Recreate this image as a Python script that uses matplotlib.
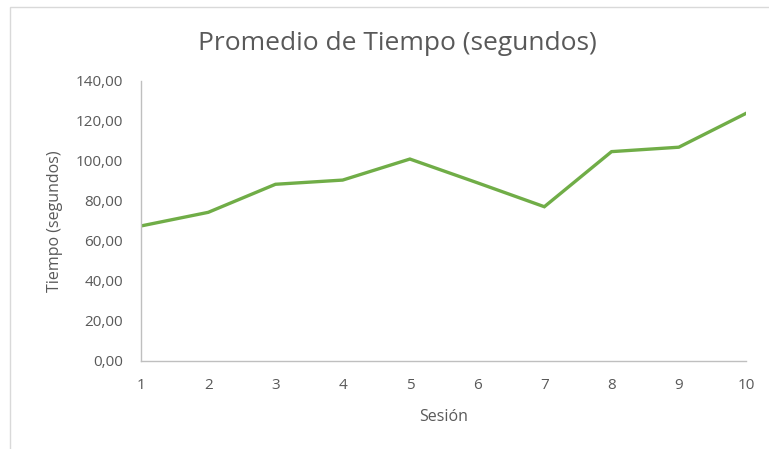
import matplotlib.pyplot as plt
from matplotlib.ticker import FuncFormatter, MultipleLocator
from matplotlib.patches import Rectangle

sesiones = [1, 2, 3, 4, 5, 6, 7, 8, 9, 10]
tiempo = [67.4, 74.2, 88.2, 90.3, 100.8, 89.0, 77.0, 104.5, 106.7, 123.6]

txt = "#595959"
plt.rcParams['font.family'] = ['Open Sans', 'DejaVu Sans']

fig = plt.figure(figsize=(7.69, 4.49), dpi=100)
# chart frame (cropped on the right/bottom in the original)
fig.patches.append(Rectangle((10 / 769, -0.1), 1.2, (449 - 7) / 449 + 0.1,
                             transform=fig.transFigure, fill=False,
                             edgecolor="#D9D9D9", linewidth=1))

ax = fig.add_axes([141 / 769, 88 / 449, 605 / 769, 280.5 / 449])
ax.plot(sesiones, tiempo, color="#70AD47", linewidth=2.4, solid_joinstyle="miter")

ax.set_xlim(1, 10)
ax.set_ylim(0, 140)
ax.set_xticks(sesiones)
ax.yaxis.set_major_locator(MultipleLocator(20))
ax.yaxis.set_major_formatter(FuncFormatter(lambda v, p: f"{v:.2f}".replace(".", ",")))

for s in ["top", "right"]:
    ax.spines[s].set_visible(False)
for s in ["left", "bottom"]:
    ax.spines[s].set_color("#BFBFBF")
    ax.spines[s].set_linewidth(1)
ax.tick_params(length=0, colors=txt, labelsize=11)
ax.tick_params(axis="y", pad=13)
ax.tick_params(axis="x", pad=12)

ax.set_xlabel("Sesión", color=txt, fontsize=11.5, labelpad=12)
ax.set_ylabel("Tiempo (segundos)", color=txt, fontsize=11.5, labelpad=9)
fig.text(397 / 769, 1 - 43 / 449, "Promedio de Tiempo (segundos)", color=txt,
         fontsize=19, ha="center", va="center")

fig.savefig("out.png", dpi=100)
